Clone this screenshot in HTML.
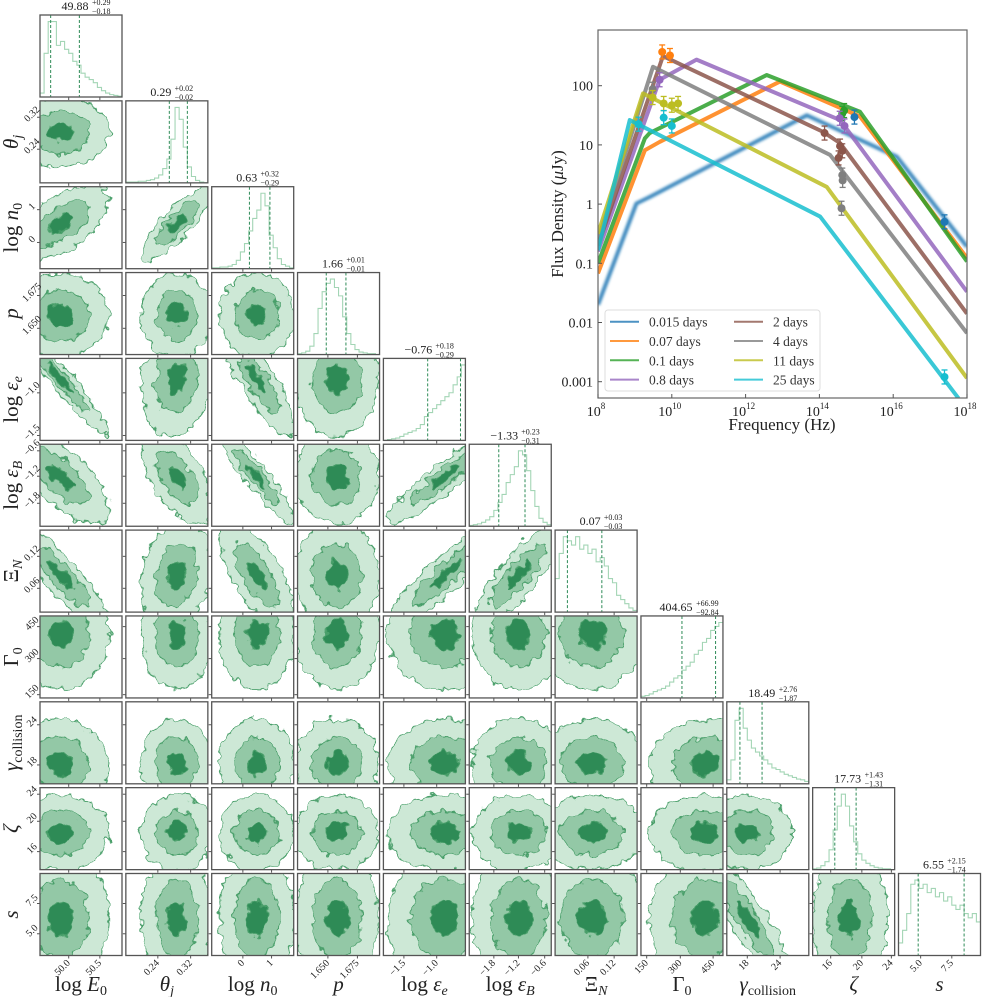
<!DOCTYPE html>
<html><head><meta charset="utf-8"><style>
html,body{margin:0;padding:0;background:#fff;}
svg{display:block;font-family:"Liberation Serif",serif;}
</style></head><body>
<svg id="fig" width="997" height="997" viewBox="0 0 997 997" xmlns="http://www.w3.org/2000/svg">
<defs>
<filter id="rough" x="-10%" y="-10%" width="120%" height="120%">
<feTurbulence type="fractalNoise" baseFrequency="0.11" numOctaves="2" seed="3" result="n"/>
<feDisplacementMap in="SourceGraphic" in2="n" scale="12" xChannelSelector="R" yChannelSelector="G"/>
</filter>
<filter id="blur1"><feGaussianBlur stdDeviation="1.2"/></filter>
</defs>
</svg>
<script>
// ===== Corner plot data =====
const paramNames = ["log E0","θj","log n0","p","log εe","log εB","ΞN","Γ0","γcollision","ζ","s"];
const medians = ["49.88","0.29","0.63","1.66","−0.76","−1.33","0.07","404.65","18.49","17.73","6.55"];
const errPlus = ["+0.29","+0.02","+0.32","+0.01","+0.18","+0.23","+0.03","+66.99","+2.76","+1.43","+2.15"];
const errMinus = ["−0.18","−0.02","−0.29","−0.01","−0.29","−0.31","−0.03","−92.84","−1.87","−1.31","−1.74"];
const qLow = [0.13,0.53,0.46,0.35,0.54,0.36,0.15,0.50,0.16,0.27,0.24];
const qHigh = [0.48,0.75,0.71,0.59,0.94,0.68,0.57,0.91,0.43,0.53,0.80];
const margMean = [0.25,0.62,0.55,0.48,0.75,0.6,0.45,0.78,0.25,0.45,0.45];
const margSd = [0.22,0.16,0.17,0.19,0.26,0.21,0.24,0.25,0.2,0.17,0.3];
const corrPairs = [[0,2,0.6],[1,2,0.85],[0,4,-0.96],[2,4,-0.85],[1,4,0.15],[0,5,-0.7],[1,5,-0.6],[2,5,-0.92],[4,5,0.92],[0,6,-0.88],[2,6,-0.7],[4,6,0.9],[5,6,0.85],[1,6,0.2],[8,10,-0.88],[7,8,0.1],[0,8,-0.1]];
const hists = [
[0.05,0.55,0.95,0.95,0.65,0.7,0.6,0.55,0.45,0.4,0.3,0.25,0.22,0.18,0.12,0.08,0.05,0.03,0.02,0.01],
[0.01,0.01,0.01,0.02,0.02,0.03,0.04,0.06,0.1,0.18,0.3,0.55,0.95,0.8,0.45,0.2,0.08,0.03,0.01,0],
[0.01,0.01,0.02,0.02,0.03,0.05,0.1,0.2,0.3,0.45,0.6,0.7,0.9,0.75,0.4,0.25,0.12,0.05,0.03,0.01],
[0.01,0.02,0.04,0.1,0.25,0.55,0.75,0.85,0.9,0.8,0.7,0.45,0.25,0.12,0.06,0.03,0.02,0.01,0.01,0],
[0,0.01,0.02,0.03,0.05,0.08,0.1,0.12,0.15,0.2,0.3,0.35,0.4,0.45,0.5,0.55,0.6,0.7,0.8,0.95],
[0.01,0.02,0.03,0.05,0.08,0.12,0.2,0.3,0.4,0.55,0.65,0.75,0.95,0.9,0.7,0.45,0.25,0.1,0.05,0.02],
[0.4,0.7,0.9,0.85,0.8,0.9,0.75,0.8,0.7,0.75,0.6,0.65,0.55,0.4,0.35,0.2,0.15,0.1,0.05,0.02],
[0.02,0.03,0.05,0.08,0.1,0.12,0.15,0.2,0.25,0.28,0.35,0.4,0.45,0.55,0.6,0.7,0.75,0.85,0.9,0.95],
[0.05,0.3,0.8,0.95,0.7,0.55,0.45,0.4,0.35,0.3,0.25,0.2,0.18,0.15,0.12,0.1,0.08,0.06,0.05,0.03],
[0.01,0.02,0.05,0.1,0.25,0.5,0.8,0.95,0.8,0.55,0.35,0.2,0.12,0.08,0.05,0.03,0.02,0.01,0.01,0],
[0.15,0.3,0.5,0.85,0.9,0.8,0.85,0.75,0.8,0.7,0.75,0.65,0.7,0.6,0.55,0.6,0.5,0.45,0.5,0.4]];
const xTickFrac = [[0.35,0.73],[0.39,0.79],[0.38,0.73],[0.37,0.73],[0.25,0.65],[0.3,0.6,0.92],[0.4,0.72],[0.07,0.48,0.88],[0.25,0.65],[0.22,0.6,0.96],[0.27,0.65]];
const yTickFrac = [[],[0.41,0.8],[0.32,0.72],[0.32,0.72],[0.06,0.58],[0.28,0.61,0.92],[0.29,0.68],[0.04,0.48,0.87],[0.23,0.72],[0.22,0.59,0.92],[0.265,0.634]];
const tickLabels = [["50.0","50.5"],["0.24","0.32"],["0","1"],["1.650","1.675"],["−1.5","−1.0"],["−1.8","−1.2","−0.6"],["0.06","0.12"],["150","300","450"],["18","24"],["16","20","24"],["5.0","7.5"]];

// ===== SED data =====
const sedLabels = ["0.015 days","0.07 days","0.1 days","0.8 days","2 days","4 days","11 days","25 days"];
const sedColors = ["#1f77b4","#ff7f0e","#2ca02c","#9467bd","#8c564b","#7f7f7f","#bcbd22","#17becf"];
const sedNu = [
[8,9.04,9.4,13.66,16.1,18],
[8,9.27,9.67,12.93,15.1,18],
[8,9.27,9.4,12.57,15.1,18],
[8,9.67,10.67,14.56,18],
[8,9.76,14.1,14.56,18],
[8,9.49,14.29,18],
[8,9.22,14.2,18],
[8,8.86,14.02,17.77]];
const sedF = [
[-1.7,0.01,0.12,1.5,0.8,-0.72],
[-1.17,0.91,1.05,2.07,1.48,-0.91],
[-1.0,1.11,1.2,2.18,1.56,-0.97],
[-0.8,2.1,2.44,1.42,-1.48],
[-0.7,2.5,1.22,1.03,-1.85],
[-0.6,2.32,0.83,-2.18],
[-0.5,1.87,0.29,-2.94],
[-0.78,1.42,-0.21,-3.28]];
const obsNu = [[14.95,17.39],[9.74,9.95],[14.67,14.62],[9.67,14.55,14.68],[14.14,14.56,14.62,14.52],[9.48,14.6,14.63,14.62],[9.48,9.78,10.0,10.17],[9.1,9.78,10.0,17.39]];
const obsF = [[1.47,-0.3],[2.57,2.51],[1.58,1.53],[2.1,1.45,1.32],[1.2,0.98,0.9,0.78],[1.94,-0.07,0.4,0.49],[1.8,1.7,1.67,1.7],[1.35,1.46,1.32,-2.92]];
const xTicksSed = [8,10,12,14,16,18];
const yTicksSed = [-3,-2,-1,0,1,2];
const yTickLabSed = ["0.001","0.01","0.1","1","10","100"];

const NS="http://www.w3.org/2000/svg";
const svg=document.getElementById('fig');
function el(tag,attrs,parent,text){const e=document.createElementNS(NS,tag);for(const k in attrs)e.setAttribute(k,attrs[k]);if(text!==undefined)e.textContent=text;(parent||svg).appendChild(e);return e;}

const X0=40,Y0=15,P=85.85,S=82;
const corr={};corrPairs.forEach(c=>{corr[c[0]+'_'+c[1]]=c[2];corr[c[1]+'_'+c[0]]=c[2];});
const LIGHT="#cde8d6",MID="#93c8a6",DARK="#2e8b57",EDGE="#4a9f6a";
function panelXY(r,c){return [X0+c*P,Y0+r*P];}

for(let r=0;r<11;r++){
 for(let c=0;c<=r;c++){
  const [px,py]=panelXY(r,c);
  const g=el('g',{},svg);
  
  
  const cid='clip'+r+'_'+c;
  const cp=el('clipPath',{id:cid},g);el('rect',{x:px,y:py,width:S,height:S},cp);
  if(r===c){
   const h=hists[r];const n=h.length;const mx=Math.max(...h);
   let d='';for(let i=0;i<n;i++){const x1=px+i/n*S,x2=px+(i+1)/n*S,y=py+S-(h[i]/mx)*S*0.92;d+=(i===0?'M'+x1+','+(py+S)+'L'+x1+','+y:'L'+x1+','+y)+'L'+x2+','+y;}
   const hp=el('path',{d:d,fill:'none',stroke:'#a3d5b5','stroke-width':1.1,'clip-path':'url(#'+cid+')'},g);
   
   
   [qLow[r],qHigh[r]].forEach(q=>{const ql=el('line',{x1:px+q*S,x2:px+q*S,y1:py,y2:py+S,stroke:DARK,'stroke-width':1,'stroke-dasharray':'3,2'},g);
    
    });
   const cx=px+S/2;
   const t=el('text',{x:cx-6,y:py-5,'font-size':12,'text-anchor':'middle',fill:'#222'},g,medians[r]);
   
   
   const tw=medians[r].length*3.2;
   el('text',{x:cx-6+tw+1,y:py-10,'font-size':8,fill:'#222'},g,errPlus[r]);
   el('text',{x:cx-6+tw+1,y:py-1,'font-size':8,fill:'#222'},g,errMinus[r]);
  } else {
   const rho=corr[c+'_'+r]||0;
   const sx=margSd[c]*S, sy=margSd[r]*S;
   const mx=px+margMean[c]*S, my=py+S-margMean[r]*S;
   const a=sx*sx, cc=sy*sy, b=-rho*sx*sy;
   const tr=(a+cc)/2, df=Math.sqrt(((a-cc)/2)**2+b*b);
   const l1=tr+df,l2=Math.max(tr-df,5);
   const ang=0.5*Math.atan2(2*b,a-cc)*180/Math.PI;
   const inner=el('g',{'clip-path':'url(#'+cid+')'},g);
   const fg=el('g',{filter:'url(#rough)'},inner);
   [[2.7,LIGHT],[1.6,MID],[0.7,DARK]].forEach(([k,col],i)=>{
    const e=el('ellipse',{cx:mx,cy:my,rx:k*Math.sqrt(l1),ry:k*Math.sqrt(l2),transform:'rotate('+ang+' '+mx+' '+my+')',fill:col,stroke:EDGE,'stroke-width':1},fg);
    
    
   });
  }
  el('rect',{x:px,y:py,width:S,height:S,fill:'none',stroke:'#555','stroke-width':1.3},g);
  xTickFrac[c].forEach(f=>el('line',{x1:px+f*S,x2:px+f*S,y1:py+S,y2:py+S+3,stroke:'#555'},g));
  if(r!==c){yTickFrac[r].forEach(f=>el('line',{x1:px-3,x2:px,y1:py+S-f*S,y2:py+S-f*S,stroke:'#555'},g));}
 }
}
function richLabel(x,y,parts,anchor,rot,parent){
 const t=el('text',{x:x,y:y,'font-size':21,'text-anchor':anchor,fill:'#222',transform:rot?('rotate(-90 '+x+' '+y+')'):''},parent);
 parts.forEach(p=>{el('tspan',p.a||{},t,p.t);});return t;}
const labelParts=[
 [{t:'log '},{t:'E',a:{'font-style':'italic'}},{t:'0',a:{'font-size':14,dy:4}}],
 [{t:'θ',a:{'font-style':'italic'}},{t:'j',a:{'font-size':14,dy:4,'font-style':'italic'}}],
 [{t:'log '},{t:'n',a:{'font-style':'italic'}},{t:'0',a:{'font-size':14,dy:4}}],
 [{t:'p',a:{'font-style':'italic'}}],
 [{t:'log '},{t:'ε',a:{'font-style':'italic'}},{t:'e',a:{'font-size':14,dy:4,'font-style':'italic'}}],
 [{t:'log '},{t:'ε',a:{'font-style':'italic'}},{t:'B',a:{'font-size':14,dy:4,'font-style':'italic'}}],
 [{t:'Ξ'},{t:'N',a:{'font-size':14,dy:4,'font-style':'italic'}}],
 [{t:'Γ'},{t:'0',a:{'font-size':14,dy:4}}],
 [{t:'γ',a:{'font-style':'italic'}},{t:'collision',a:{'font-size':14,dy:4}}],
 [{t:'ζ',a:{'font-style':'italic'}}],
 [{t:'s',a:{'font-style':'italic'}}]];
for(let c=0;c<11;c++){
 const [px,py]=panelXY(10,c);
 xTickFrac[c].forEach((f,i)=>{const x=px+f*S+2,y=py+S+8;
  const t=el('text',{x:x,y:y,'font-size':10,'text-anchor':'end',fill:'#222',transform:'rotate(-45 '+x+' '+y+')'},svg,tickLabels[c][i]);
  
  });
 const xl=richLabel(px+S/2,991,labelParts[c],'middle',false);
 
 
}
for(let r=1;r<11;r++){
 const [px,py]=panelXY(r,0);
 yTickFrac[r].forEach((f,i)=>{const x=px-6,y=py+S-f*S-1;
  const t=el('text',{x:x,y:y,'font-size':10,'text-anchor':'middle',fill:'#222',transform:'rotate(-45 '+x+' '+y+')'},svg,tickLabels[r][i]);
  
  });
 const yl=richLabel(18,py+S/2,labelParts[r],'middle',true);
 
 
}

// ===== SED inset =====
const AX={l:598,r:967,t:30,b:398};
const sx=v=>AX.l+(v-8)/10*(AX.r-AX.l);
const sy=v=>85.7-(v-2)*59.2;
const sed=el('g',{},svg);


const sclip=el('clipPath',{id:'sedclip'},sed);el('rect',{x:AX.l,y:AX.t,width:AX.r-AX.l,height:AX.b-AX.t},sclip);
const lines=el('g',{'clip-path':'url(#sedclip)'},sed);
sedNu.forEach((nu,i)=>{
 const pts=nu.map((v,k)=>sx(v)+','+sy(sedF[i][k])).join(' ');
 const pl=el('polyline',{points:pts,fill:'none',stroke:sedColors[i],'stroke-width':4,'stroke-linejoin':'round','stroke-opacity':0.85,filter:i===0?'url(#blur1)':''},lines);
 
 
});
sedNu.forEach((nu,i)=>{
 obsNu[i].forEach((v,k)=>{
  const x=sx(v),y=sy(obsF[i][k]);
  el('line',{x1:x,x2:x,y1:y-7,y2:y+7,stroke:sedColors[i],'stroke-width':1.3},lines);
  el('line',{x1:x-3,x2:x+3,y1:y-7,y2:y-7,stroke:sedColors[i],'stroke-width':1.3},lines);
  el('line',{x1:x-3,x2:x+3,y1:y+7,y2:y+7,stroke:sedColors[i],'stroke-width':1.3},lines);
  const c=el('circle',{cx:x,cy:y,r:4,fill:sedColors[i]},lines);
  
  
 });
});
el('rect',{x:AX.l,y:AX.t,width:AX.r-AX.l,height:AX.b-AX.t,fill:'none',stroke:'#666','stroke-width':1.2},sed);
xTicksSed.forEach(v=>{const x=sx(v);el('line',{x1:x,x2:x,y1:AX.b,y2:AX.b-4,stroke:'#555'},sed);
 const t=el('text',{x:x-2,y:AX.b+18,'font-size':14,'text-anchor':'middle',fill:'#222'},sed,'10');
 el('tspan',{'font-size':9,dy:-7},t,String(v));
 
 });
yTicksSed.forEach((v,i)=>{const y=sy(v);el('line',{x1:AX.l,x2:AX.l+4,y1:y,y2:y,stroke:'#555'},sed);
 const t=el('text',{x:AX.l-5,y:y+5,'font-size':14,'text-anchor':'end',fill:'#222'},sed,yTickLabSed[i]);
 
 });
const xt=el('text',{x:782,y:430,'font-size':17,'text-anchor':'middle',fill:'#222'},sed,'Frequency (Hz)');


const yt=el('text',{x:563,y:214,'font-size':17,'text-anchor':'middle',fill:'#222',transform:'rotate(-90 563 214)'},sed);
el('tspan',{},yt,'Flux Density (');el('tspan',{'font-style':'italic'},yt,'μ');el('tspan',{},yt,'Jy)');


const lg=el('g',{},sed);


el('rect',{x:605,y:310,width:215,height:81,rx:3,fill:'#fff','fill-opacity':0.85,stroke:'#ddd'},lg);
sedLabels.forEach((lab,i)=>{
 const col=i<4?0:1,row=i%4;const lx=col?734:610,y=321.7+row*19.3;
 const e=el('g',{},lg);
 
 
 el('line',{x1:lx,x2:lx+29,y1:y,y2:y,stroke:sedColors[i],'stroke-width':2,'stroke-opacity':0.8},e);
 el('text',{x:lx+39,y:y+5,'font-size':13.5,fill:'#333'},e,lab);
});
</script>
</body></html>
